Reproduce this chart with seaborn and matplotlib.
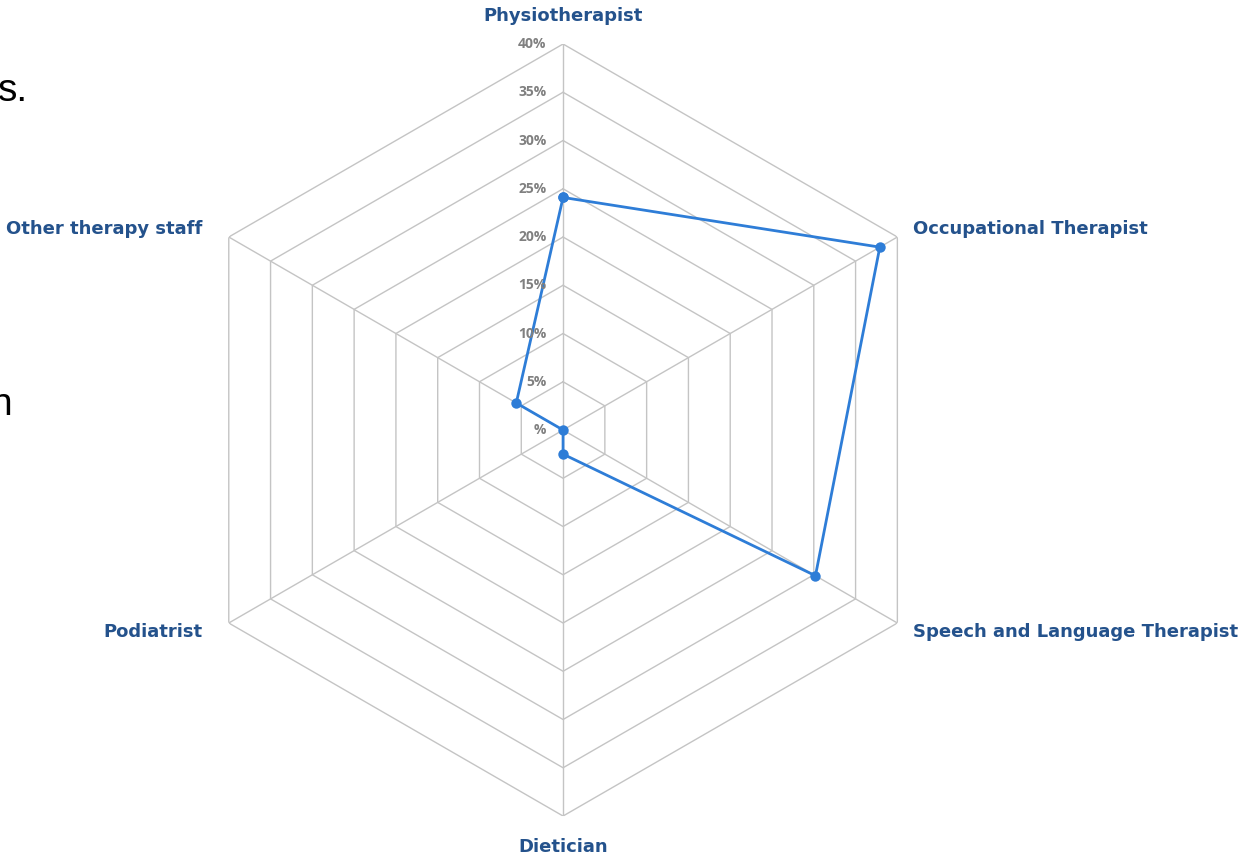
import numpy as np
import matplotlib
matplotlib.use("Agg")
import matplotlib.pyplot as plt
import seaborn as sns

sns.set_style("white")
plt.rcParams["font.family"] = ["Liberation Sans", "DejaVu Sans"]

categories = ["Physiotherapist", "Occupational Therapist", "Speech and Language Therapist",
              "Dietician", "Podiatrist", "Other therapy staff"]
values = [24.1, 37.9, 30.2, 2.5, 0.0, 5.6]
rings = [5, 10, 15, 20, 25, 30, 35, 40]
ring_labels = ["%", "5%", "10%", "15%", "20%", "25%", "30%", "35%", "40%"]

GRID = "#C4C4C4"
LINE = "#2E7DD7"
LABEL = "#24528C"
TICK = "#808080"

fig = plt.figure(figsize=(12.46, 8.56), dpi=100)
ax = fig.add_axes([0.1421, 0.0467, 0.6196, 0.9019], projection="polar")
ax.set_theta_zero_location("N")
ax.set_theta_direction(-1)
ax.set_ylim(0, 40)
ax.grid(False)
ax.spines["polar"].set_visible(False)
ax.set_xticks([])
ax.set_yticks([])

angles = np.linspace(0, 2 * np.pi, len(categories), endpoint=False)
closed = np.append(angles, angles[0])

# hexagonal rings and spokes
for r in rings:
    ax.plot(closed, [r] * len(closed), color=GRID, lw=1.0, zorder=1)
for a in angles:
    ax.plot([a, a], [0, 40], color=GRID, lw=1.0, zorder=1)

# data
sns.lineplot(x=closed, y=values + values[:1], sort=False, estimator=None,
             color=LINE, lw=2.0, marker="o", markersize=7.5, markeredgewidth=0,
             ax=ax, zorder=3)
ax.set_xlabel("")
ax.set_ylabel("")

# radial tick labels left of the top spoke
for r, lab in zip([0] + rings, ring_labels):
    ax.annotate(lab, xy=(0, r), xytext=(-12, 0), textcoords="offset points",
                ha="right", va="center", fontsize=10, fontweight="bold",
                color=TICK, family=["Open Sans", "DejaVu Sans"])

# category labels
for a, cat in zip(angles, categories):
    deg = np.degrees(a) % 360
    if deg == 0:
        ha, va, off = "center", "bottom", (0, 14)
    elif deg == 180:
        ha, va, off = "center", "top", (0, -16)
    elif deg < 90:
        ha, va, off = "left", "center", (11.5, 6)
    elif deg < 180:
        ha, va, off = "left", "center", (11.5, -6.5)
    elif deg < 270:
        ha, va, off = "right", "center", (-19, -6.5)
    else:
        ha, va, off = "right", "center", (-19, 6)
    ax.annotate(cat, xy=(a, 40), xytext=off, textcoords="offset points",
                ha=ha, va=va, fontsize=13, fontweight="bold", color=LABEL,
                family=["DejaVu Sans"])

# clipped slide text at left edge
fig.text(-0.002, 0.894, "s.", fontsize=28, color="black", ha="left", va="center")
fig.text(-0.008, 0.527, "n", fontsize=28, color="black", ha="left", va="center")

fig.savefig("out.png", dpi=100)
